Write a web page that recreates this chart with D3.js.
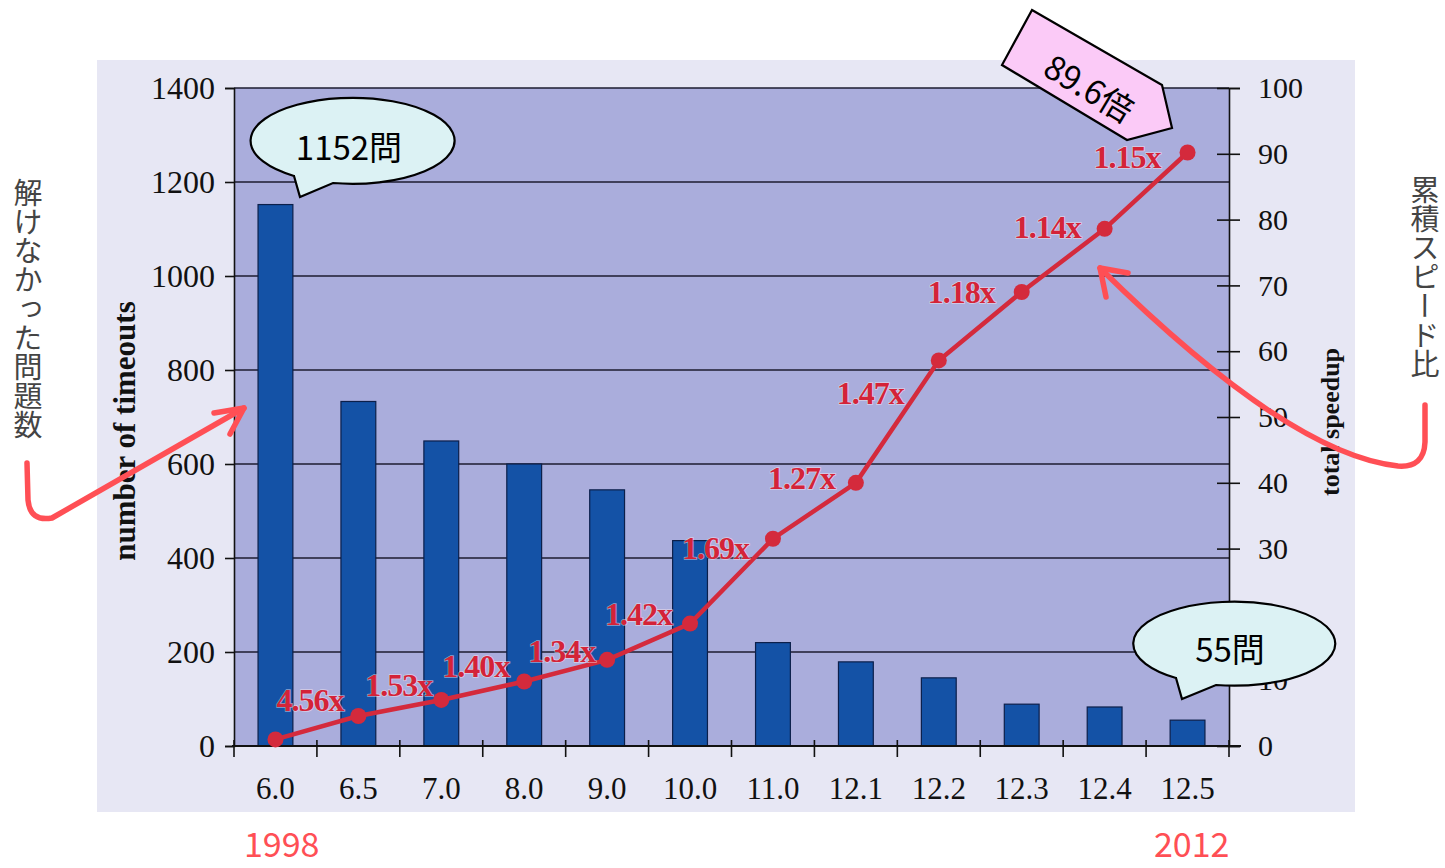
<!DOCTYPE html>
<html>
<head>
<meta charset="utf-8">
<script src="https://cdn.jsdelivr.net/npm/d3@7"></script>
<style>
  body { margin: 0; background: #fff; }
  svg { display: block; }
</style>
</head>
<body>
<div class="chart"></div>
<script>
// versions, timeouts (bars) and cumulative speedup (line)
const versions = ['6.0', '6.5', '7.0', '8.0', '9.0', '10.0', '11.0', '12.1', '12.2', '12.3', '12.4', '12.5'];
const timeouts = [1152, 733, 649, 600, 545, 437, 220, 179, 145, 89, 83, 55];
const speedup = [1, 4.56, 7.0, 9.8, 13.1, 18.6, 31.5, 40.0, 58.6, 69.0, 78.6, 90.2];
const stepLabels = ['4.56x', '1.53x', '1.40x', '1.34x', '1.42x', '1.69x', '1.27x', '1.47x', '1.18x', '1.14x', '1.15x'];
const leftTicks = [0, 200, 400, 600, 800, 1000, 1200, 1400];
const rightTicks = [0, 10, 20, 30, 40, 50, 60, 70, 80, 90, 100];

// label nudges next to each point (end of text, baseline)
const labelDx = [-15, -9, -15, -12, -18, -24, -21, -35, -27, -24, -27];
const labelDy = [-5, -4, -5, 2, 1, 20, 6, 44, 11, 9, 16];

const width = 1445, height = 868;
const plot = {left: 234, right: 1229, top: 88, bottom: 746};

const svg = d3.select('.chart')
    .append('svg')
    .attr('width', width)
    .attr('height', height);

// scanned page + plot background
svg.append('rect')
    .attr('x', 97).attr('y', 60)
    .attr('width', 1258).attr('height', 752)
    .attr('fill', '#e7e7f4');

svg.append('rect')
    .attr('x', plot.left).attr('y', plot.top)
    .attr('width', plot.right - plot.left).attr('height', plot.bottom - plot.top)
    .attr('fill', '#aaaddc');

const xScale = d3.scaleBand()
    .domain(versions)
    .range([plot.left, plot.right])
    .paddingInner(0.58)
    .paddingOuter(0.29);

const yLeft = d3.scaleLinear().domain([0, 1400]).range([plot.bottom, plot.top]);
const yRight = d3.scaleLinear().domain([0, 100]).range([plot.bottom, plot.top]);

const serif = '"Liberation Serif", "Times New Roman", serif';
const jp = '"Noto Sans CJK JP", "Noto Sans", sans-serif';

// gridlines
svg.append('g')
    .selectAll('line')
    .data(leftTicks.filter(d => d > 0))
    .enter()
    .append('line')
    .attr('x1', plot.left).attr('x2', plot.right)
    .attr('y1', d => yLeft(d)).attr('y2', d => yLeft(d))
    .attr('stroke', '#1c1c30')
    .attr('stroke-width', 1.4);

// bars
svg.append('g')
    .selectAll('rect')
    .data(versions)
    .enter()
    .append('rect')
    .attr('x', d => xScale(d))
    .attr('y', (d, i) => yLeft(timeouts[i]))
    .attr('width', xScale.bandwidth())
    .attr('height', (d, i) => plot.bottom - yLeft(timeouts[i]))
    .attr('fill', '#1452a6')
    .attr('stroke', '#0c1f4a')
    .attr('stroke-width', 1.2);

// left axis
const leftAxis = svg.append('g')
    .attr('transform', `translate(${plot.left},0)`)
    .call(d3.axisLeft(yLeft).tickValues(leftTicks).tickSize(9).tickPadding(10).tickFormat(d3.format('d')));
leftAxis.select('.domain').attr('stroke', '#111').attr('stroke-width', 1.6);
leftAxis.selectAll('line').attr('stroke', '#111').attr('stroke-width', 1.6);
leftAxis.selectAll('text')
    .attr('font-family', serif).attr('font-size', 32).attr('fill', '#111');

// right axis
const rightAxis = svg.append('g')
    .attr('transform', `translate(${plot.right},0)`)
    .call(d3.axisRight(yRight).tickValues(rightTicks).tickSize(11).tickPadding(18));
rightAxis.select('.domain').attr('stroke', '#111').attr('stroke-width', 1.6);
rightAxis.selectAll('line').attr('x1', -12).attr('stroke', '#111').attr('stroke-width', 1.6);
rightAxis.selectAll('text')
    .attr('font-family', serif).attr('font-size', 30).attr('fill', '#111');

// bottom axis: line + ticks at category boundaries + labels
const step = xScale.step();
const gap = step - xScale.bandwidth();
const bounds = versions.map(d => xScale(d) - gap / 2).concat([xScale(versions[versions.length - 1]) + xScale.bandwidth() + gap / 2]);

svg.append('line')
    .attr('x1', plot.left - 2).attr('x2', plot.right + 12)
    .attr('y1', plot.bottom).attr('y2', plot.bottom)
    .attr('stroke', '#111').attr('stroke-width', 1.8);

svg.append('g')
    .selectAll('line')
    .data(bounds)
    .enter()
    .append('line')
    .attr('x1', d => d).attr('x2', d => d)
    .attr('y1', plot.bottom - 6).attr('y2', plot.bottom + 11)
    .attr('stroke', '#111').attr('stroke-width', 1.6);

svg.append('g')
    .selectAll('text')
    .data(versions)
    .enter()
    .append('text')
    .attr('x', d => xScale(d) + xScale.bandwidth() / 2)
    .attr('y', 799)
    .attr('text-anchor', 'middle')
    .attr('font-family', serif).attr('font-size', 31).attr('fill', '#111')
    .text(d => d);

// axis titles
svg.append('text')
    .attr('transform', 'translate(135,431) rotate(-90)')
    .attr('text-anchor', 'middle')
    .attr('font-family', serif).attr('font-size', 31).attr('font-weight', 'bold').attr('fill', '#111')
    .text('number of timeouts');

svg.append('text')
    .attr('transform', 'translate(1339,422) rotate(-90)')
    .attr('text-anchor', 'middle')
    .attr('font-family', serif).attr('font-size', 26).attr('font-weight', 'bold').attr('fill', '#111')
    .text('total speedup');

// speedup line
const cx = d => xScale(d) + xScale.bandwidth() / 2;
const line = d3.line()
    .x((d, i) => cx(versions[i]))
    .y(d => yRight(d));

svg.append('path')
    .datum(speedup)
    .attr('d', line)
    .attr('fill', 'none')
    .attr('stroke', '#d42a3c')
    .attr('stroke-width', 4.5);

svg.append('g')
    .selectAll('circle')
    .data(speedup)
    .enter()
    .append('circle')
    .attr('cx', (d, i) => cx(versions[i]))
    .attr('cy', d => yRight(d))
    .attr('r', 8)
    .attr('fill', '#d42a3c');

svg.append('g')
    .selectAll('text')
    .data(stepLabels)
    .enter()
    .append('text')
    .attr('x', (d, i) => cx(versions[i + 1]) + labelDx[i])
    .attr('y', (d, i) => yRight(speedup[i + 1]) + labelDy[i])
    .attr('text-anchor', 'end')
    .attr('font-family', serif).attr('font-size', 32).attr('font-weight', 'bold')
    .attr('letter-spacing', -1)
    .attr('fill', '#d42338')
    .attr('stroke', 'rgba(255,235,240,0.55)').attr('stroke-width', 1.5)
    .attr('paint-order', 'stroke')
    .text(d => d);

// red hand-drawn arrows
const arrows = svg.append('g')
    .attr('fill', 'none')
    .attr('stroke', '#ff4f55')
    .attr('stroke-width', 5.5)
    .attr('stroke-linecap', 'round')
    .attr('stroke-linejoin', 'round');

arrows.append('path').attr('d', 'M27,463 L28,500 Q30,522 52,518 Q150,462 244,408');
arrows.append('path').attr('d', 'M214,413 L244,408 L230,434');
arrows.append('path').attr('d', 'M1425,405 L1425,442 Q1424,468 1398,466 Q1290,455 1100,268');
arrows.append('path').attr('d', 'M1128,273 L1100,268 L1106,297');

// speech bubbles
const bubble = (g, rx, ry, tail) => {
  const a1 = tail[0], tip = tail[1], a2 = tail[2];
  g.append('path')
    .attr('d', `M${a1[0]},${a1[1]} L${tip[0]},${tip[1]} L${a2[0]},${a2[1]}`
      + ` A${rx},${ry} 0 1 0 ${a1[0]},${a1[1]} Z`)
    .attr('fill', '#dcf2f4')
    .attr('stroke', '#000')
    .attr('stroke-width', 2.2);
};

const b1 = svg.append('g');
bubble(b1, 102, 43, [[294, 176], [300, 197], [333, 183]]);
b1.append('text')
    .attr('x', 349).attr('y', 160)
    .attr('text-anchor', 'middle')
    .attr('font-family', jp).attr('font-size', 33).attr('fill', '#000')
    .text('1152問');

const b2 = svg.append('g');
bubble(b2, 101, 42, [[1176, 678], [1182, 699], [1216, 685]]);
b2.append('text')
    .attr('x', 1230).attr('y', 662)
    .attr('text-anchor', 'middle')
    .attr('font-family', jp).attr('font-size', 33).attr('fill', '#000')
    .text('55問');

// pink tag
svg.append('path')
    .attr('d', 'M1032,10 L1162,85 L1172,128 L1127,140 L1002,65 Z')
    .attr('fill', '#fbcaf7')
    .attr('stroke', '#000')
    .attr('stroke-width', 2.2)
    .attr('stroke-linejoin', 'miter');

svg.append('text')
    .attr('transform', 'translate(1090,87) rotate(31)')
    .attr('text-anchor', 'middle')
    .attr('dominant-baseline', 'central')
    .attr('font-family', jp).attr('font-size', 33).attr('fill', '#000')
    .text('89.6倍');

// side notes
svg.append('text')
    .attr('x', 28).attr('y', 178)
    .style('writing-mode', 'vertical-rl')
    .attr('font-family', jp).attr('font-size', 29).attr('fill', '#444')
    .text('解けなかった問題数');

svg.append('text')
    .attr('x', 1425).attr('y', 175)
    .style('writing-mode', 'vertical-rl')
    .attr('font-family', jp).attr('font-size', 29).attr('fill', '#444')
    .text('累積スピード比');

// years
svg.append('text')
    .attr('x', 244).attr('y', 857)
    .attr('font-family', jp).attr('font-size', 34).attr('fill', '#ff4f55')
    .text('1998');

svg.append('text')
    .attr('x', 1154).attr('y', 857)
    .attr('font-family', jp).attr('font-size', 34).attr('fill', '#ff4f55')
    .text('2012');
</script>
</body>
</html>
